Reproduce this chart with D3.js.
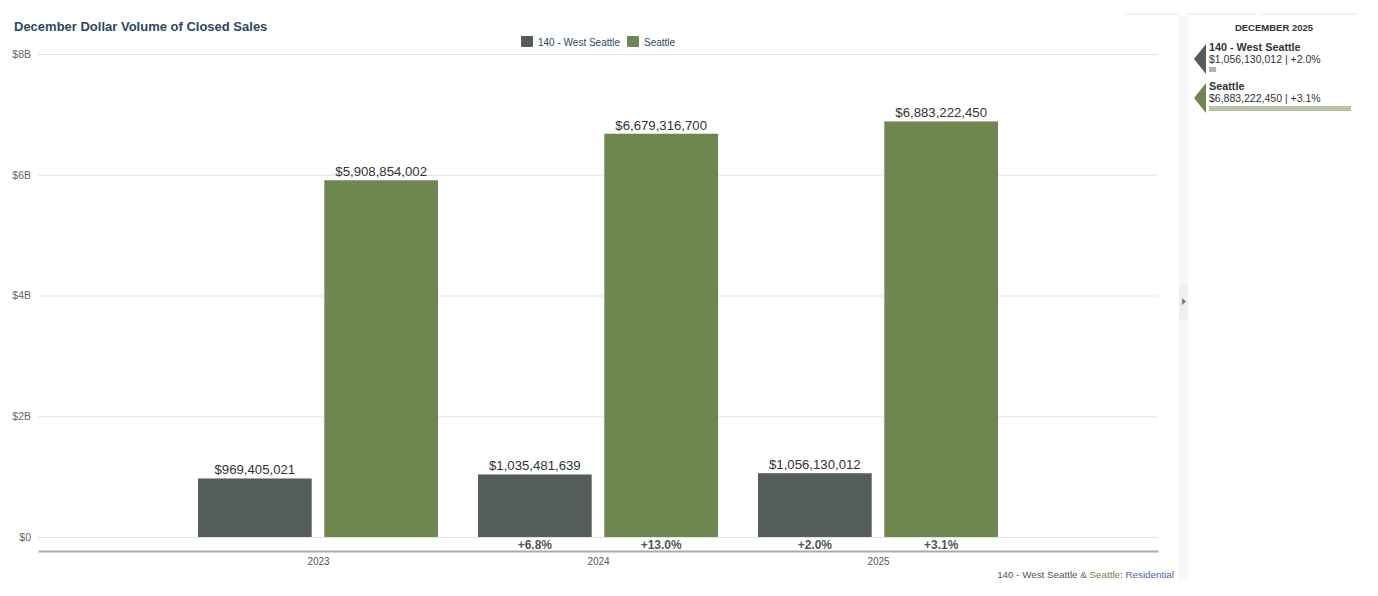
<!DOCTYPE html>
<html>
<head>
<meta charset="utf-8">
<script src="https://cdn.jsdelivr.net/npm/d3@7"></script>
<style>
  body { margin: 0; background: #fff; }
  svg text { font-family: "Liberation Sans", Arial, sans-serif; }
</style>
</head>
<body>
<div id="chart"></div>
<script>
// data
const years = [2023, 2024, 2025];
const seriesNames = ["140 - West Seattle", "Seattle"];
const westSeattle = [969405021, 1035481639, 1056130012];
const seattle = [5908854002, 6679316700, 6883222450];
const westChange = [null, "+6.8%", "+2.0%"];
const seattleChange = [null, "+13.0%", "+3.1%"];
const yTicks = [0, 2e9, 4e9, 6e9, 8e9];
const yTickLabels = ["$0", "$2B", "$4B", "$6B", "$8B"];

const W = 1378, H = 596;
const margin = { top: 54, left: 38, right: 220, bottom: 59 };
const plotRight = W - margin.right;
const plotBottom = H - margin.bottom;

const color = d3.scaleOrdinal().domain(seriesNames).range(["#545d5b", "#6e8750"]);
const fmt = d3.format("$,");

const svg = d3.select("#chart").append("svg")
  .attr("width", W).attr("height", H);

// scales
const x = d3.scaleLinear().domain([2022, 2026]).range([margin.left, plotRight]);
const xSub = d3.scaleBand().domain(seriesNames).range([-120, 120]).paddingInner(0.1);
const y = d3.scaleLinear().domain([0, 8e9]).range([plotBottom, margin.top]);

// title
svg.append("text")
  .attr("x", 14).attr("y", 31)
  .style("font-size", "13px").style("font-weight", "bold")
  .attr("fill", "#2b4768")
  .text("December Dollar Volume of Closed Sales");

// gridlines + y labels
const yAxis = svg.append("g")
  .attr("transform", `translate(${margin.left},0)`)
  .call(d3.axisLeft(y).tickValues(yTicks)
    .tickSize(-(plotRight - margin.left))
    .tickFormat((d, i) => yTickLabels[i]));
yAxis.select(".domain").remove();
yAxis.selectAll(".tick line").attr("stroke", "#e3e3e3");
yAxis.selectAll(".tick text")
  .attr("x", -7).attr("dy", "0.32em")
  .style("fill", "#666").style("font-size", "10.5px");

// x axis
const xAxis = svg.append("g")
  .attr("transform", `translate(0,${plotBottom + 14})`)
  .call(d3.axisBottom(x).tickValues(years).tickSize(0).tickFormat(d3.format("d")));
xAxis.select(".domain").attr("stroke", "#aaa").attr("stroke-width", 2);
xAxis.selectAll(".tick text").attr("dy", "1.1em")
  .style("fill", "#555").style("font-size", "10px");

// bars
const rows = years.map((yr, i) => ({
  year: yr,
  values: [
    { key: seriesNames[0], value: westSeattle[i], change: westChange[i] },
    { key: seriesNames[1], value: seattle[i], change: seattleChange[i] },
  ],
}));

const groups = svg.append("g").selectAll("g")
  .data(rows)
  .join("g")
  .attr("transform", (d) => `translate(${x(d.year)},0)`);

groups.selectAll("rect")
  .data((d) => d.values)
  .join("rect")
  .attr("x", (d) => xSub(d.key))
  .attr("y", (d) => y(d.value))
  .attr("width", xSub.bandwidth())
  .attr("height", (d) => y(0) - y(d.value))
  .attr("fill", (d) => color(d.key));

groups.selectAll(".val")
  .data((d) => d.values)
  .join("text")
  .attr("class", "val")
  .attr("x", (d) => xSub(d.key) + xSub.bandwidth() / 2)
  .attr("y", (d) => y(d.value) - 4)
  .attr("text-anchor", "middle")
  .attr("fill", "#333")
  .style("font-size", "13.2px")
  .text((d) => fmt(d.value));

groups.selectAll(".chg")
  .data((d) => d.values.filter((v) => v.change))
  .join("text")
  .attr("class", "chg")
  .attr("x", (d) => xSub(d.key) + xSub.bandwidth() / 2)
  .attr("y", plotBottom + 12)
  .attr("text-anchor", "middle")
  .attr("fill", "#555")
  .style("font-size", "12px").style("font-weight", "bold")
  .text((d) => d.change);

// legend
const legend = svg.append("g").attr("transform", "translate(521,36)");
const legX = [0, 106];
seriesNames.forEach((name, i) => {
  legend.append("rect")
    .attr("x", legX[i]).attr("y", 0)
    .attr("width", 12).attr("height", 11).attr("rx", 1)
    .attr("fill", color(name));
  legend.append("text")
    .attr("x", legX[i] + 17).attr("y", 10)
    .attr("fill", "#2b4768").style("font-size", "10px")
    .text(name);
});

// footer
const foot = svg.append("text")
  .attr("x", 1174).attr("y", 578)
  .attr("text-anchor", "end")
  .style("font-size", "9.8px");
foot.append("tspan").attr("fill", "#555").text("140 - West Seattle");
foot.append("tspan").attr("fill", "#4a6a9a").text(" & ");
foot.append("tspan").attr("fill", "#6e8750").text("Seattle");
foot.append("tspan").attr("fill", "#4a6a9a").text(": Residential");

// side panel
svg.append("rect").attr("x", 1179).attr("y", 16).attr("width", 9).attr("height", 566).attr("fill", "#f8f8f8");
svg.append("rect").attr("x", 1179).attr("y", 284).attr("width", 9).attr("height", 36).attr("fill", "#efefef");
svg.append("path").attr("d", "M1182,298 L1186,301.5 L1182,305 Z").attr("fill", "#6e8750");
[[1125, 1179], [1186, 1256], [1262, 1357]].forEach(([a, b]) => {
  svg.append("line").attr("x1", a).attr("x2", b).attr("y1", 14).attr("y2", 14)
    .attr("stroke", "#e3e3e3");
});

svg.append("text")
  .attr("x", 1274).attr("y", 31)
  .attr("text-anchor", "middle")
  .attr("fill", "#333")
  .style("font-size", "9.5px").style("font-weight", "bold")
  .text("DECEMBER 2025");

const last = years.length - 1;
const panelItems = [
  { key: seriesNames[0], value: westSeattle[last], change: westChange[last], light: "#b3b3b3" },
  { key: seriesNames[1], value: seattle[last], change: seattleChange[last], light: "#b7c5a6" },
];
const panelBar = d3.scaleLinear().domain([0.75e9, d3.max(panelItems, (d) => d.value)]).range([0, 142]);

panelItems.forEach((d, i) => {
  const top = 44 + i * 39;
  svg.append("path")
    .attr("d", `M1194,${top + 15} L1206,${top} L1206,${top + 30} Z`)
    .attr("fill", color(d.key));
  svg.append("text")
    .attr("x", 1209).attr("y", top + 7)
    .attr("fill", "#333").style("font-size", "10.8px").style("font-weight", "bold")
    .text(d.key);
  svg.append("text")
    .attr("x", 1209).attr("y", top + 19)
    .attr("fill", "#333").style("font-size", "10.5px")
    .text(`${fmt(d.value)} | ${d.change}`);
  svg.append("rect")
    .attr("x", 1209).attr("y", top + 23)
    .attr("width", panelBar(d.value)).attr("height", 5)
    .attr("fill", d.light);
});
</script>
</body>
</html>
